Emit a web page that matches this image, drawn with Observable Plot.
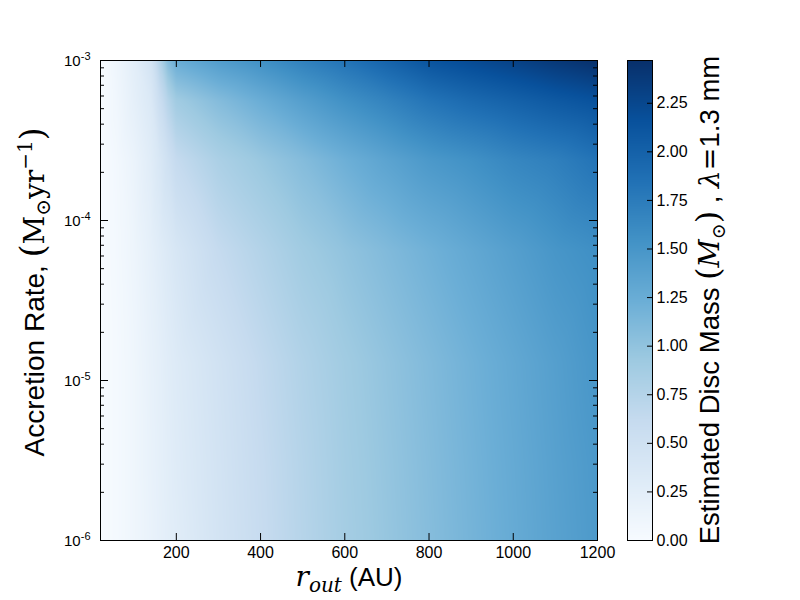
<!DOCTYPE html>
<html><head><meta charset="utf-8">
<script src="https://cdn.jsdelivr.net/npm/d3@7"></script>
<script src="https://cdn.jsdelivr.net/npm/@observablehq/plot@0.6"></script>
<style>
body{margin:0;background:#fff;}
#wrap{position:relative;width:800px;height:600px;overflow:hidden;}
#wrap svg{position:absolute;top:0;}
</style></head><body><div id="wrap"></div>
<script>
// ---- data ----
const rOut = [20, 60, 100, 140, 160, 180, 200, 300, 400, 500, 600, 700, 800, 900, 1000, 1100, 1200];
const accretionRates = [1e-6, 3e-6, 1.3e-5, 6.5e-5, 2.4e-4, 5.6e-4, 1e-3];
const mass_1e6   = [0, 0.04, 0.10, 0.17, 0.21, 0.25, 0.28, 0.45, 0.60, 0.74, 0.87, 0.97, 1.07, 1.17, 1.27, 1.37, 1.46];
const mass_3e6   = [0, 0.04, 0.10, 0.18, 0.22, 0.26, 0.30, 0.46, 0.61, 0.75, 0.88, 0.98, 1.08, 1.18, 1.28, 1.38, 1.47];
const mass_1p3e5 = [0, 0.04, 0.10, 0.19, 0.23, 0.28, 0.32, 0.48, 0.64, 0.78, 0.90, 1.00, 1.10, 1.20, 1.30, 1.40, 1.50];
const mass_6p5e5 = [0, 0.05, 0.12, 0.22, 0.28, 0.34, 0.40, 0.62, 0.76, 0.90, 1.00, 1.10, 1.20, 1.30, 1.40, 1.50, 1.57];
const mass_2p4e4 = [0, 0.06, 0.15, 0.28, 0.38, 0.50, 0.62, 0.82, 0.95, 1.08, 1.22, 1.35, 1.47, 1.55, 1.65, 1.72, 1.83];
const mass_5p6e4 = [0, 0.09, 0.22, 0.35, 0.55, 0.74, 0.90, 1.08, 1.24, 1.40, 1.55, 1.68, 1.82, 1.92, 2.00, 2.08, 2.15];
const mass_1e3   = [0, 0.11, 0.25, 0.45, 0.75, 1.08, 1.25, 1.42, 1.55, 1.70, 1.83, 1.98, 2.13, 2.22, 2.30, 2.39, 2.47];
const massRows = [mass_1e6, mass_3e6, mass_1p3e5, mass_6p5e5, mass_2p4e4, mass_5p6e4, mass_1e3];

const xTicks = [200, 400, 600, 800, 1000, 1200];
const yTicks = [1e-6, 1e-5, 1e-4, 1e-3];
const yTickExponents = ["-6", "-5", "-4", "-3"];
const yMinorTicks = [2e-6,3e-6,4e-6,5e-6,6e-6,7e-6,8e-6,9e-6,
                     2e-5,3e-5,4e-5,5e-5,6e-5,7e-5,8e-5,9e-5,
                     2e-4,3e-4,4e-4,5e-4,6e-4,7e-4,8e-4,9e-4];
const cbarTicks = [0, 0.25, 0.5, 0.75, 1.0, 1.25, 1.5, 1.75, 2.0, 2.25];
const massMax = 2.47;
const blues = ["#f7fbff","#deebf7","#c6dbef","#9ecae1","#6baed6","#4292c6","#2171b5","#08519c","#08306b"];

const grid = accretionRates.flatMap((m, i) => rOut.map((r, j) => ({r, mdot: m, mass: massRows[i][j]})));
const colorStops = blues.map((_, i) => i * massMax / (blues.length - 1));
const colorScale = {type: "linear", domain: colorStops, range: blues, interpolate: "rgb"};

const SANS = "Liberation Sans, Arial, sans-serif";
const SERIF = "DejaVu Serif, Liberation Serif, serif";

// ---- main heatmap ----
const PW = 497, PH = 480;
const main = Plot.plot({
  width: 800, height: 600,
  marginLeft: 100, marginRight: 203, marginTop: 60, marginBottom: 60,
  style: {fontFamily: SANS, fontSize: "16px", color: "black", background: "white"},
  x: {domain: [20, 1200], label: null, axis: null},
  y: {type: "log", domain: [1e-6, 1e-3], label: null, axis: null},
  color: colorScale,
  marks: [
    Plot.raster(grid, {x: "r", y: "mdot", fill: "mass", interpolate: "barycentric"}),
    Plot.ruleX(xTicks, {x: d => d, insetTop: PH - 7, stroke: "black"}),
    Plot.ruleX(xTicks, {x: d => d, insetBottom: PH - 7, stroke: "black"}),
    Plot.ruleY(yTicks, {y: d => d, insetRight: PW - 8, stroke: "black"}),
    Plot.ruleY(yTicks, {y: d => d, insetLeft: PW - 8, stroke: "black"}),
    Plot.ruleY(yMinorTicks, {y: d => d, insetRight: PW - 4, stroke: "black"}),
    Plot.ruleY(yMinorTicks, {y: d => d, insetLeft: PW - 4, stroke: "black"}),
    Plot.frame({stroke: "black", strokeWidth: 1}),
    Plot.text(xTicks, {x: d => d, text: d => String(d), frameAnchor: "bottom", lineAnchor: "top",
                       dy: 6, fontSize: 16, fill: "black"}),
    Plot.text(yTicks, {y: d => d, text: (d, i) => "E" + yTickExponents[i], frameAnchor: "left",
                       textAnchor: "end", dx: -10, dy: 1, fontSize: 15, fill: "black"})
  ]
});

// y tick labels as 10 with superscript exponent
d3.select(main).selectAll("text").each(function() {
  const t = d3.select(this);
  const s = t.text();
  if (!/^E-\d$/.test(s)) return;
  t.text("");
  t.append("tspan").text("10");
  t.append("tspan").attr("dy", "-0.55em").attr("font-size", "11px").text(s.slice(1));
});

// axis titles
const ms = d3.select(main);
const xl = ms.append("text").attr("x", 349).attr("y", 586).attr("text-anchor", "middle").attr("fill", "black");
xl.append("tspan").attr("font-family", SERIF).attr("font-style", "italic").attr("font-size", "28px").text("r");
xl.append("tspan").attr("font-family", SERIF).attr("font-style", "italic").attr("font-size", "20px").attr("dy", "6").text("out");
xl.append("tspan").attr("font-family", SANS).attr("font-size", "26px").attr("dy", "-6").text(" (AU)");

const yl = ms.append("text").attr("transform", "translate(44,292) rotate(-90)").attr("text-anchor", "middle").attr("fill", "black");
yl.append("tspan").attr("font-family", SANS).attr("font-size", "28px").text("Accretion Rate, ");
yl.append("tspan").attr("font-family", SERIF).attr("font-size", "33px").text("(");
yl.append("tspan").attr("font-family", SERIF).attr("font-size", "28px").text("M");
yl.append("tspan").attr("font-family", SERIF).attr("font-size", "20px").attr("dy", "6").text("⊙");
yl.append("tspan").attr("font-family", SERIF).attr("font-size", "28px").attr("dy", "-6").text("yr");
yl.append("tspan").attr("font-family", SERIF).attr("font-size", "20px").attr("dy", "-12").text("−1");
yl.append("tspan").attr("font-family", SERIF).attr("font-size", "33px").attr("dy", "12").text(")");

// ---- colorbar ----
const cbar = Plot.plot({
  width: 200, height: 600,
  marginLeft: 27, marginRight: 148, marginTop: 60, marginBottom: 60,
  style: {fontFamily: SANS, fontSize: "16px", color: "black", background: "transparent"},
  x: {domain: [0, 1], axis: null},
  y: {domain: [0, massMax], axis: null},
  color: colorScale,
  marks: [
    Plot.raster({fill: (x, y) => y, x1: 0, x2: 1, y1: 0, y2: massMax, width: 4, height: 480}),
    Plot.ruleY(cbarTicks, {y: d => d, insetLeft: 25 - 5, stroke: "black"}),
    Plot.frame({stroke: "black"}),
    Plot.text(cbarTicks, {y: d => d, text: d => d3.format(".2f")(d), frameAnchor: "right",
                          textAnchor: "start", dx: 4, fontSize: 16, fill: "black"})
  ]
});
cbar.style.left = "600px";
const cs = d3.select(cbar);
const cl = cs.append("text").attr("transform", "translate(119,300) rotate(-90)").attr("text-anchor", "middle").attr("fill", "black");
cl.append("tspan").attr("font-family", SANS).attr("font-size", "27.5px").text("Estimated Disc Mass ");
cl.append("tspan").attr("font-family", SERIF).attr("font-size", "32px").text("(");
cl.append("tspan").attr("font-family", SERIF).attr("font-style", "italic").attr("font-size", "27.5px").text("M");
cl.append("tspan").attr("font-family", SERIF).attr("font-size", "19px").attr("dy", "6").text("⊙");
cl.append("tspan").attr("font-family", SERIF).attr("font-size", "32px").attr("dy", "-6").text(")");
cl.append("tspan").attr("font-family", SANS).attr("font-size", "27.5px").text(" , ");
cl.append("tspan").attr("font-family", SERIF).attr("font-style", "italic").attr("font-size", "27.5px").text("λ");
cl.append("tspan").attr("font-family", SERIF).attr("font-size", "27.5px").text("=");
cl.append("tspan").attr("font-family", SANS).attr("font-size", "27.5px").text("1.3 mm");

const wrap = document.getElementById("wrap");
main.style.left = "0px";
wrap.appendChild(main);
wrap.appendChild(cbar);
</script></body></html>
